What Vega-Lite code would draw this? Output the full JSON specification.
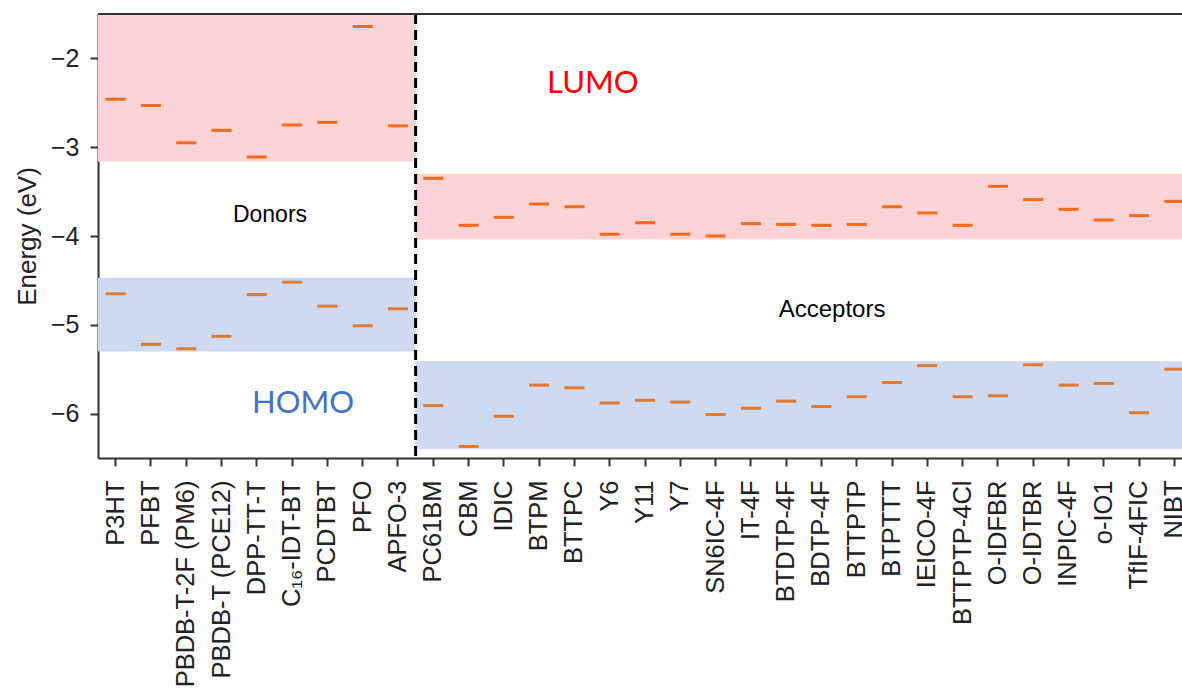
{
  "$schema": "https://vega.github.io/schema/vega-lite/v6.json",
  "width": 1084,
  "height": 444,
  "autosize": {"type": "none"},
  "padding": {"left": 98, "top": 14, "right": 0, "bottom": 241},
  "background": "white",
  "config": {"view": {"stroke": null}, "font": "Liberation Sans"},
  "datasets": {
    "materials": [
      {"name": "P3HT", "group": "Donors", "lumo": -2.46, "homo": -4.65},
      {"name": "PFBT", "group": "Donors", "lumo": -2.53, "homo": -5.22},
      {"name": "PBDB-T-2F (PM6)", "group": "Donors", "lumo": -2.95, "homo": -5.27},
      {"name": "PBDB-T (PCE12)", "group": "Donors", "lumo": -2.81, "homo": -5.13},
      {"name": "DPP-TT-T", "group": "Donors", "lumo": -3.11, "homo": -4.66},
      {"name": "C₁₆-IDT-BT", "group": "Donors", "lumo": -2.75, "homo": -4.52},
      {"name": "PCDTBT", "group": "Donors", "lumo": -2.72, "homo": -4.79},
      {"name": "PFO", "group": "Donors", "lumo": -1.64, "homo": -5.01},
      {"name": "APFO-3", "group": "Donors", "lumo": -2.76, "homo": -4.82},
      {"name": "PC61BM", "group": "Acceptors", "lumo": -3.35, "homo": -5.91},
      {"name": "CBM", "group": "Acceptors", "lumo": -3.88, "homo": -6.37},
      {"name": "IDIC", "group": "Acceptors", "lumo": -3.79, "homo": -6.03},
      {"name": "BTPM", "group": "Acceptors", "lumo": -3.64, "homo": -5.68},
      {"name": "BTTPC", "group": "Acceptors", "lumo": -3.67, "homo": -5.71},
      {"name": "Y6", "group": "Acceptors", "lumo": -3.98, "homo": -5.88},
      {"name": "Y11", "group": "Acceptors", "lumo": -3.85, "homo": -5.85},
      {"name": "Y7", "group": "Acceptors", "lumo": -3.98, "homo": -5.87},
      {"name": "SN6IC-4F", "group": "Acceptors", "lumo": -4.0, "homo": -6.01},
      {"name": "IT-4F", "group": "Acceptors", "lumo": -3.86, "homo": -5.94},
      {"name": "BTDTP-4F", "group": "Acceptors", "lumo": -3.87, "homo": -5.86},
      {"name": "BDTP-4F", "group": "Acceptors", "lumo": -3.88, "homo": -5.92},
      {"name": "BTTPTP", "group": "Acceptors", "lumo": -3.87, "homo": -5.81},
      {"name": "BTPTTT", "group": "Acceptors", "lumo": -3.67, "homo": -5.65},
      {"name": "IEICO-4F", "group": "Acceptors", "lumo": -3.74, "homo": -5.46},
      {"name": "BTTPTP-4Cl", "group": "Acceptors", "lumo": -3.88, "homo": -5.81},
      {"name": "O-IDFBR", "group": "Acceptors", "lumo": -3.44, "homo": -5.8},
      {"name": "O-IDTBR", "group": "Acceptors", "lumo": -3.59, "homo": -5.45},
      {"name": "INPIC-4F", "group": "Acceptors", "lumo": -3.7, "homo": -5.68},
      {"name": "o-IO1", "group": "Acceptors", "lumo": -3.82, "homo": -5.66},
      {"name": "TfIF-4FIC", "group": "Acceptors", "lumo": -3.77, "homo": -5.99},
      {"name": "NIBT", "group": "Acceptors", "lumo": -3.61, "homo": -5.5}
    ],
    "regions": [
      {"group": "Donors", "level": "LUMO", "first": "P3HT", "last": "APFO-3", "lo": -3.16, "hi": -1.5},
      {"group": "Donors", "level": "HOMO", "first": "P3HT", "last": "APFO-3", "lo": -5.3, "hi": -4.47},
      {"group": "Acceptors", "level": "LUMO", "first": "PC61BM", "last": "NIBT", "lo": -4.04, "hi": -3.3},
      {"group": "Acceptors", "level": "HOMO", "first": "PC61BM", "last": "NIBT", "lo": -6.4, "hi": -5.41}
    ],
    "one": [{}]
  },
  "layer": [
    {
      "data": {"name": "regions"},
      "mark": {"type": "rect", "opacity": 1},
      "encoding": {
        "x": {
          "field": "first",
          "type": "nominal",
          "bandPosition": 0,
          "scale": {
            "type": "band",
            "domain": ["P3HT", "PFBT", "PBDB-T-2F (PM6)", "PBDB-T (PCE12)", "DPP-TT-T", "C₁₆-IDT-BT", "PCDTBT", "PFO", "APFO-3", "PC61BM", "CBM", "IDIC", "BTPM", "BTTPC", "Y6", "Y11", "Y7", "SN6IC-4F", "IT-4F", "BTDTP-4F", "BDTP-4F", "BTTPTP", "BTPTTT", "IEICO-4F", "BTTPTP-4Cl", "O-IDFBR", "O-IDTBR", "INPIC-4F", "o-IO1", "TfIF-4FIC", "NIBT"],
            "range": [0, 1094],
            "paddingInner": 0,
            "paddingOuter": 0
          },
          "axis": {
            "title": null,
            "labelAngle": -90,
            "labelFont": "Liberation Sans",
            "labelFontSize": 25.5,
            "labelColor": "#222222",
            "labelPadding": 14,
            "labelLimit": 400,
            "labelOverlap": false,
            "labelBound": false,
            "tickSize": 8,
            "tickWidth": 2,
            "tickColor": "#333333",
            "domainColor": "#333333",
            "domainWidth": 2,
            "grid": false
          }
        },
        "x2": {"field": "last", "bandPosition": 1},
        "y": {
          "field": "lo",
          "type": "quantitative",
          "scale": {"domain": [-6.5, -1.5], "nice": false, "zero": false},
          "axis": {
            "title": "Energy (eV)",
            "values": [-6, -5, -4, -3, -2],
            "format": ".0f",
            "grid": false,
            "tickSize": 8,
            "tickWidth": 2,
            "tickColor": "#333333",
            "domainColor": "#333333",
            "domainWidth": 2,
            "labelFont": "Liberation Sans",
            "labelFontSize": 25,
            "labelColor": "#222222",
            "labelPadding": 11,
            "titleFont": "Liberation Sans",
            "titleFontSize": 26,
            "titleFontWeight": "normal",
            "titleColor": "#222222",
            "titlePadding": 10
          }
        },
        "y2": {"field": "hi"},
        "color": {
          "field": "level",
          "type": "nominal",
          "scale": {"domain": ["LUMO", "HOMO"], "range": ["#fdd4d5", "#cedaf0"]},
          "legend": null
        }
      }
    },
    {
      "data": {"name": "one"},
      "mark": {"type": "rule", "color": "black", "strokeWidth": 3, "strokeDash": [10, 6]},
      "encoding": {"x": {"datum": "PC61BM", "type": "nominal", "bandPosition": 0}}
    },
    {
      "data": {"name": "one"},
      "mark": {"type": "rule", "color": "#333333", "strokeWidth": 2},
      "encoding": {"y": {"datum": -1.5, "type": "quantitative"}}
    },
    {
      "data": {"name": "materials"},
      "mark": {"type": "tick", "color": "#ff6a1a", "opacity": 1, "thickness": 3, "size": 20},
      "encoding": {
        "x": {"field": "name", "type": "nominal"},
        "y": {"field": "lumo", "type": "quantitative"}
      }
    },
    {
      "data": {"name": "materials"},
      "mark": {"type": "tick", "color": "#dd7a35", "opacity": 1, "thickness": 3, "size": 20},
      "encoding": {
        "x": {"field": "name", "type": "nominal"},
        "y": {"field": "homo", "type": "quantitative"}
      }
    },
    {
      "data": {"name": "one"},
      "mark": {"type": "text", "text": "Donors", "font": "Liberation Sans", "fontSize": 23, "color": "black", "align": "center", "baseline": "middle"},
      "encoding": {
        "x": {"datum": "DPP-TT-T", "type": "nominal", "bandPosition": 0.873},
        "y": {"datum": -3.769, "type": "quantitative"}
      }
    },
    {
      "data": {"name": "one"},
      "mark": {"type": "text", "text": "Acceptors", "font": "Liberation Sans", "fontSize": 24, "color": "black", "align": "center", "baseline": "middle"},
      "encoding": {
        "x": {"datum": "BDTP-4F", "type": "nominal", "bandPosition": 0.8},
        "y": {"datum": -4.828, "type": "quantitative"}
      }
    },
    {
      "data": {"name": "one"},
      "mark": {"type": "text", "text": "LUMO", "font": "Lato", "fontSize": 31, "color": "#ff0000", "align": "center", "baseline": "middle"},
      "encoding": {
        "x": {"datum": "Y6", "type": "nominal", "bandPosition": 0.02},
        "y": {"datum": -2.288, "type": "quantitative"}
      }
    },
    {
      "data": {"name": "one"},
      "mark": {"type": "text", "text": "HOMO", "font": "Lato", "fontSize": 31, "color": "#4472c4", "align": "center", "baseline": "middle"},
      "encoding": {
        "x": {"datum": "C₁₆-IDT-BT", "type": "nominal", "bandPosition": 0.81},
        "y": {"datum": -5.892, "type": "quantitative"}
      }
    }
  ]
}
